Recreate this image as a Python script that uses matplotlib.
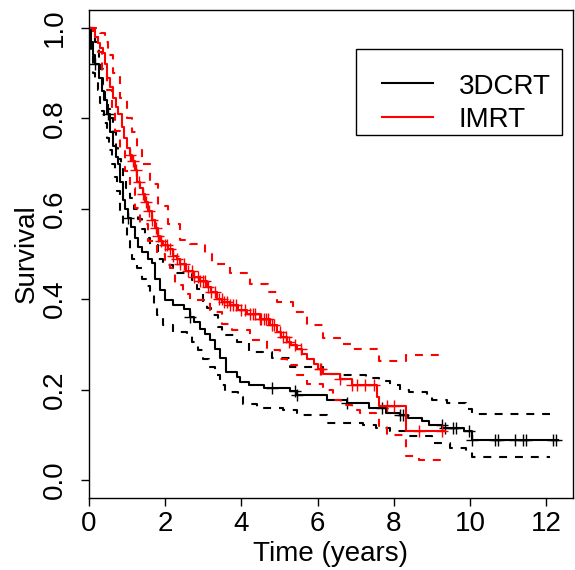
"""
KM survival curves, 3DCRT vs IMRT, with confidence bands
"""
import numpy as np
import matplotlib
matplotlib.use("Agg")
import matplotlib.pyplot as plt
from matplotlib.patches import Rectangle

plt.rcParams['font.family'] = ['Liberation Sans', 'DejaVu Sans']

# ------------------------------------------------------
# data (time in years, survival)
groups = ["3DCRT", "IMRT"]
colors = ["black", "red"]

# 3DCRT survival
b_t = [0, 0.05, 0.1, 0.16, 0.25, 0.33, 0.4, 0.48, 0.55, 0.62, 0.7, 0.76, 0.82, 0.89,
       0.95, 1.02, 1.1, 1.2, 1.28, 1.4, 1.55, 1.65, 1.73, 1.85, 2.0, 2.2, 2.5, 2.65,
       2.75, 2.9, 3.05, 3.17, 3.3, 3.45, 3.6, 3.88, 3.96, 4.2, 4.6, 5.27, 5.45, 6.24,
       6.76, 7.34, 7.8, 8.15, 8.36, 8.75, 8.93, 9.27, 9.85, 10.06]
b_s = [1.0, 0.97, 0.94, 0.92, 0.89, 0.86, 0.84, 0.81, 0.77, 0.74, 0.715, 0.70, 0.66, 0.62,
       0.60, 0.58, 0.56, 0.535, 0.515, 0.505, 0.49, 0.48, 0.445, 0.42, 0.398, 0.387, 0.379, 0.36,
       0.35, 0.334, 0.322, 0.31, 0.29, 0.27, 0.238, 0.228, 0.216, 0.209, 0.203, 0.196, 0.187, 0.176,
       0.171, 0.16, 0.149, 0.143, 0.136, 0.131, 0.122, 0.116, 0.109, 0.089]
b_end = 12.3
b_cens = [0.16, 0.5, 1.02, 2.65, 4.8, 5.4, 5.45, 6.76, 7.7, 8.17, 8.23, 9.25, 9.33, 9.54,
          9.62, 9.98, 10.06, 10.66, 10.74, 11.19, 11.4, 11.47, 12.18, 12.26]

# 3DCRT upper / lower bands
bu_t = [0, 0.1, 0.16, 0.25, 0.29, 0.36, 0.42, 0.5, 0.55, 0.62, 0.7, 0.76, 0.83, 0.89,
        0.97, 1.07, 1.17, 1.28, 1.38, 1.47, 1.6, 1.8, 1.95, 2.2, 2.7, 2.83, 3.0, 3.1,
        3.2, 3.38, 3.5, 3.88, 4.2, 4.8, 5.27, 6.13, 6.5, 7.28, 7.62, 7.89, 8.15, 8.4,
        8.86, 9.0, 9.4, 9.9, 10.06]
bu_s = [1.0, 0.985, 0.97, 0.93, 0.91, 0.875, 0.845, 0.82, 0.80, 0.77, 0.735, 0.71, 0.69, 0.668,
        0.645, 0.624, 0.60, 0.577, 0.555, 0.535, 0.52, 0.49, 0.475, 0.457, 0.443, 0.423, 0.394, 0.38,
        0.365, 0.339, 0.32, 0.305, 0.283, 0.27, 0.249, 0.234, 0.232, 0.225, 0.22, 0.21, 0.20, 0.194,
        0.187, 0.176, 0.171, 0.156, 0.147]
bl_t = [0, 0.05, 0.1, 0.17, 0.24, 0.3, 0.34, 0.4, 0.47, 0.53, 0.6, 0.67, 0.73, 0.81,
        0.9, 1.0, 1.07, 1.13, 1.25, 1.4, 1.5, 1.6, 1.7, 1.78, 1.94, 2.2, 2.57, 2.7,
        2.85, 3.0, 3.15, 3.3, 3.45, 3.56, 3.9, 4.03, 4.4, 5.1, 5.45, 6.24, 7.18, 7.54,
        7.9, 8.33, 9.0, 9.46, 9.9, 10.06]
bl_s = [1.0, 0.95, 0.90, 0.88, 0.862, 0.835, 0.817, 0.79, 0.757, 0.73, 0.70, 0.67, 0.64, 0.588,
        0.56, 0.528, 0.51, 0.488, 0.47, 0.445, 0.43, 0.41, 0.385, 0.365, 0.343, 0.327, 0.318, 0.305,
        0.287, 0.267, 0.25, 0.232, 0.21, 0.194, 0.183, 0.167, 0.16, 0.154, 0.143, 0.127, 0.122, 0.116,
        0.109, 0.098, 0.082, 0.071, 0.062, 0.051]
b_band_end = 12.1

# IMRT survival
r_t = [0, 0.15, 0.24, 0.3, 0.37, 0.42, 0.47, 0.55, 0.63, 0.7, 0.76, 0.86, 0.93, 1.0,
       1.07, 1.13, 1.2, 1.26, 1.34, 1.41, 1.48, 1.55, 1.65, 1.73, 1.8, 1.86, 1.95, 2.07,
       2.2, 2.3, 2.38, 2.55, 2.72, 2.9, 3.09, 3.2, 3.35, 3.5, 3.7, 3.9, 4.14, 4.48,
       4.74, 4.93, 5.05, 5.19, 5.3, 5.45, 5.6, 5.71, 5.9, 6.0, 6.15, 6.58, 6.89, 7.55,
       7.62, 8.33]
r_s = [1.0, 0.98, 0.967, 0.955, 0.944, 0.92, 0.89, 0.87, 0.846, 0.826, 0.81, 0.78, 0.757, 0.735,
       0.72, 0.706, 0.685, 0.66, 0.645, 0.633, 0.615, 0.595, 0.575, 0.557, 0.54, 0.528, 0.52, 0.51,
       0.495, 0.488, 0.477, 0.463, 0.45, 0.44, 0.428, 0.415, 0.40, 0.393, 0.387, 0.376, 0.367, 0.356,
       0.343, 0.327, 0.316, 0.305, 0.298, 0.29, 0.278, 0.267, 0.256, 0.245, 0.234, 0.223, 0.209, 0.183,
       0.163, 0.109]
r_end = 9.33
r_cens = [1.07, 1.15, 1.22, 1.3, 1.42, 1.5, 1.57, 1.66, 1.77, 1.82, 1.9, 2.0, 2.05, 2.12,
          2.2, 2.3, 2.38, 2.5, 2.6, 2.69, 2.75, 2.85, 2.92, 2.99, 3.05, 3.12, 3.21, 3.3,
          3.4, 3.48, 3.55, 3.62, 3.7, 3.77, 3.85, 4.0, 4.1, 4.22, 4.3, 4.35, 4.48, 4.52,
          4.58, 4.64, 4.7, 4.79, 4.85, 5.0, 5.1, 5.18, 5.25, 5.4, 5.55, 6.05, 6.1, 6.58,
          6.89, 7.02, 7.23, 7.49, 7.83, 8.0, 8.67, 9.25]

# IMRT upper / lower bands
ru_t = [0, 0.2, 0.29, 0.42, 0.5, 0.63, 0.81, 1.0, 1.13, 1.25, 1.39, 1.6, 1.8, 2.07,
        2.38, 2.65, 3.04, 3.22, 3.69, 4.22, 4.69, 4.93, 5.34, 5.71, 6.13, 6.58, 6.89, 7.55,
        7.62, 8.33]
ru_s = [1.0, 0.995, 0.99, 0.97, 0.94, 0.90, 0.846, 0.80, 0.77, 0.735, 0.70, 0.655, 0.606, 0.566,
        0.53, 0.523, 0.499, 0.477, 0.457, 0.434, 0.416, 0.394, 0.372, 0.343, 0.314, 0.30, 0.29, 0.278,
        0.263, 0.276]
rl_t = [0, 0.1, 0.15, 0.24, 0.34, 0.47, 0.6, 0.68, 0.81, 0.94, 1.07, 1.2, 1.34, 1.55,
        1.78, 2.0, 2.12, 2.25, 2.46, 2.65, 3.17, 3.48, 3.75, 4.22, 4.66, 5.0, 5.19, 5.45,
        5.71, 6.13, 6.4, 6.6, 6.89, 7.1, 7.54, 7.62, 7.83, 8.33, 8.67]
rl_s = [1.0, 0.99, 0.98, 0.947, 0.906, 0.862, 0.817, 0.773, 0.728, 0.684, 0.646, 0.601, 0.566, 0.528,
        0.499, 0.48, 0.468, 0.432, 0.412, 0.399, 0.372, 0.345, 0.332, 0.31, 0.287, 0.267, 0.254, 0.232,
        0.212, 0.198, 0.176, 0.165, 0.154, 0.149, 0.143, 0.12, 0.10, 0.053, 0.045]

x_ticks = [0, 2, 4, 6, 8, 10, 12]
y_ticks = [0.0, 0.2, 0.4, 0.6, 0.8, 1.0]


def step_xy(t, s, end):
    return list(t) + [end], list(s) + [s[-1]]


def value_at(t, s, times):
    idx = np.searchsorted(np.array(t), np.array(times), side='right') - 1
    return np.array(s)[idx]


# ------------------------------------------------------
fig = plt.figure(figsize=(5.75, 5.70), dpi=100)
ax = fig.add_axes([0.1548, 0.1263, 0.8417, 0.8562])
ax.set_xlim(0, 12.7)
ax.set_ylim(-0.04, 1.04)

dash = (0, (3.8, 3.8))
curves = [
    (b_t, b_s, b_end, bu_t, bu_s, bl_t, bl_s, b_band_end, b_cens),
    (r_t, r_s, r_end, ru_t, ru_s, rl_t, rl_s, r_end, r_cens),
]
for (t, s, end, ut, us, lt, ls, bend, cens), col in zip(curves, colors):
    x, y = step_xy(t, s, end)
    ax.step(x, y, where='post', color=col, lw=1.5)
    x, y = step_xy(ut, us, bend)
    ax.step(x, y, where='post', color=col, lw=1.5, linestyle=dash)
    x, y = step_xy(lt, ls, bend)
    ax.step(x, y, where='post', color=col, lw=1.5, linestyle=dash)
    ax.plot(cens, value_at(t, s, cens), linestyle='none', marker='+',
            color=col, markersize=8, markeredgewidth=1.0)

ax.set_xticks(x_ticks)
ax.set_xticklabels([str(v) for v in x_ticks])
ax.set_yticks(y_ticks)
ax.set_yticklabels(["%.1f" % v for v in y_ticks], rotation=90, va='center')
ax.tick_params(direction='out', length=6, width=1, labelsize=20, pad=3)
ax.tick_params(axis='y', pad=9)
for sp in ax.spines.values():
    sp.set_linewidth(1)

ax.set_xlabel("Time (years)", fontsize=20, labelpad=3)
ax.set_ylabel("Survival", fontsize=20, labelpad=2)

# legend box, R style
ax.add_patch(Rectangle((0.5517, 0.744), 0.977 - 0.5517, 0.920 - 0.744,
                       transform=ax.transAxes, facecolor='white',
                       edgecolor='black', lw=1, zorder=5))
for name, col, ly, ty in zip(groups, colors, [0.850, 0.781], [0.828, 0.760]):
    ax.plot([0.605, 0.711], [ly, ly], color=col, lw=1.5,
            transform=ax.transAxes, zorder=6)
    ax.text(0.764, ty, name, fontsize=20, va='baseline', ha='left',
            transform=ax.transAxes, zorder=6)

fig.savefig("out.png", dpi=100)
